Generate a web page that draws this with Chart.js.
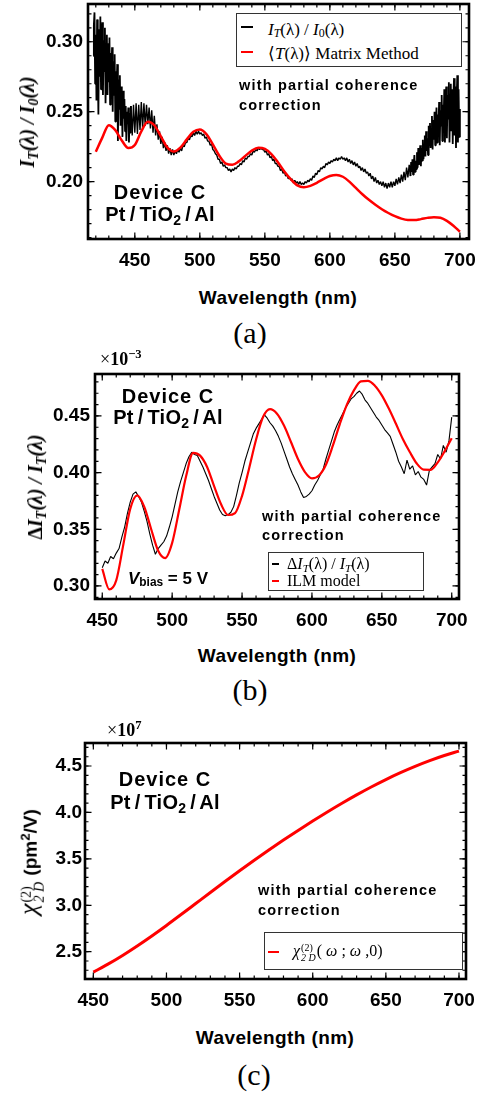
<!DOCTYPE html>
<html><head><meta charset="utf-8">
<script src="https://cdn.jsdelivr.net/npm/chart.js@4.4.1/dist/chart.umd.min.js"></script>
<style>
html,body{margin:0;padding:0;background:#fff;}
#wrap{position:relative;width:488px;height:1098px;overflow:hidden;background:#fff;}
canvas{position:absolute;left:0;}
.t{position:absolute;white-space:nowrap;color:#000;line-height:1;z-index:5;}
.c{transform:translate(-50%,-50%);}
.l{transform:translateY(-50%);}
.rot{transform:translate(-50%,-50%) rotate(-90deg);}
.sb{font-family:"Liberation Sans",Arial,sans-serif;font-weight:bold;}
.sr{font-family:"Liberation Serif","Times New Roman",serif;}
.dev{font-size:20px;letter-spacing:1px;}
.pt{font-size:20px;letter-spacing:0.3px;word-spacing:-2px;}
.wpc{font-size:14.5px;letter-spacing:1.2px;}
.axt{font-size:19px;letter-spacing:0.4px;}
.lab{font-size:30px;}
.leg{position:absolute;border:1px solid #333;background:#fff;z-index:4;box-sizing:border-box;}
.smp{position:absolute;height:2px;z-index:6;}
sub{font-size:0.7em;vertical-align:-0.25em;line-height:0;}
sup{font-size:0.7em;vertical-align:0.55em;line-height:0;}
.ss{display:inline-flex;flex-direction:column;font-size:0.6em;line-height:0.95;vertical-align:middle;text-align:left;margin:0 1px;}
</style></head>
<body>
<div id="wrap">
<canvas id="cA" width="488" height="275" style="top:0px"></canvas>
<canvas id="cB" width="488" height="275" style="top:360px"></canvas>
<canvas id="cC" width="488" height="285" style="top:730px"></canvas>

<!-- panel (a) texts -->
<div class="t sr rot" style="left:27px;top:122px;font-size:20px;font-weight:bold;font-style:italic">I<sub>T</sub>(λ) / I<sub>0</sub>(λ)</div>
<div class="t sb axt c" style="left:278px;top:297px">Wavelength (nm)</div>
<div class="t sr lab c" style="left:250px;top:333px">(a)</div>
<div class="leg" style="left:236px;top:13px;width:226px;height:54px"></div>
<div class="smp" style="left:241px;top:26px;width:12px;background:#000"></div>
<div class="smp" style="left:241px;top:51px;width:12px;background:#f00"></div>
<div class="t sr l" style="left:268px;top:29px;font-size:17px"><i>I<sub>T</sub></i>(λ) / <i>I</i><sub>0</sub>(λ)</div>
<div class="t sr l" style="left:268px;top:53px;font-size:17px">⟨<i>T</i>(λ)⟩ Matrix Method</div>
<div class="t sb wpc l" style="left:239px;top:85px">with partial coherence</div>
<div class="t sb wpc l" style="left:239px;top:105px">correction</div>
<div class="t sb dev c" style="left:160px;top:192px">Device C</div>
<div class="t sb pt c" style="left:160px;top:214px">Pt / TiO<sub>2</sub> / Al</div>

<!-- panel (b) texts -->
<div class="t sr l" style="left:100px;top:359px;font-size:18px;font-weight:bold"><span style="font-weight:normal">×</span>10<sup>−3</sup></div>
<div class="t sr rot" style="left:35px;top:487px;font-size:20px;font-weight:bold;font-style:italic"><span style="font-style:normal">Δ</span>I<sub>T</sub>(λ) / I<sub>T</sub>(λ)</div>
<div class="t sb axt c" style="left:277px;top:655px">Wavelength (nm)</div>
<div class="t sr lab c" style="left:250px;top:690px">(b)</div>
<div class="t sb dev c" style="left:168px;top:396px">Device C</div>
<div class="t sb pt c" style="left:168px;top:417px">Pt / TiO<sub>2</sub> / Al</div>
<div class="t sb wpc l" style="left:262px;top:516px">with partial coherence</div>
<div class="t sb wpc l" style="left:262px;top:535px">correction</div>
<div class="t sb l" style="left:128px;top:578px;font-size:17px"><i>V</i><sub>bias</sub> = 5 V</div>
<div class="leg" style="left:268px;top:552px;width:156px;height:39px"></div>
<div class="smp" style="left:272px;top:563px;width:7px;height:1.5px;background:#000"></div>
<div class="smp" style="left:272px;top:580px;width:7px;background:#f00"></div>
<div class="t sr l" style="left:287px;top:564px;font-size:16px">Δ<i>I<sub>T</sub></i>(λ) / <i>I<sub>T</sub></i>(λ)</div>
<div class="t sr l" style="left:287px;top:581px;font-size:16px">ILM model</div>

<!-- panel (c) texts -->
<div class="t sr l" style="left:107px;top:730px;font-size:18px;font-weight:bold"><span style="font-weight:normal">×</span>10<sup>7</sup></div>
<div class="t rot" style="left:31px;top:862px"><span class="sr" style="font-style:italic;font-size:26px">χ</span><span class="ss sr" style="font-size:14px"><span>(2)</span><span><i>2 D</i></span></span><span class="sb" style="font-size:19px"> (pm<sup>2</sup>/V)</span></div>
<div class="t sb axt c" style="left:275px;top:1037px">Wavelength (nm)</div>
<div class="t sr lab c" style="left:254px;top:1075px">(c)</div>
<div class="t sb dev c" style="left:165px;top:779px">Device C</div>
<div class="t sb pt c" style="left:165px;top:802px">Pt / TiO<sub>2</sub> / Al</div>
<div class="t sb wpc l" style="left:258px;top:890px">with partial coherence</div>
<div class="t sb wpc l" style="left:258px;top:910px">correction</div>
<div class="leg" style="left:264px;top:932px;width:199px;height:38px"></div>
<div class="smp" style="left:268px;top:951px;width:11px;background:#f00"></div>
<div class="t sr l" style="left:293px;top:952px;font-size:16px"><i>χ</i><span class="ss" style="font-size:10px"><span>(2)</span><span><i>2 D</i></span></span>( <i>ω</i> ; <i>ω</i> ,0)</div>
</div>

<script>
// ---------- Panel (a): transmission ----------
const waveA_meas = [418,418.5,419,419.5,420,420.5,421,421.5,422,422.5,423,423.5,424,424.5,425,425.5,
426,426.5,427,427.5,428,428.5,429,429.5,430,430.5,431,431.5,432,432.5,433,433.5,
434,434.5,435,435.5,436,436.5,437,437.5,438,438.5,439,439.5,440,440.5,441,441.5,
442,442.5,443,443.5,444,444.5,445,445.5,446,446.5,447,
448,449,450,451,452,453,454,455,456,457,
458,459,460,461,462,463,464,465,466,467,
468,469,470,471,472,473,474,475,476,477,
478,479,480,481,482,483,484,485,486,487,
488,489,490,491,492,493,494,495,496,497,
498,499,500,501,502,503,504,505,506,507,
508,509,510,511,512,513,514,515,516,517,
518,519,520,521,522,523,524,525,526,527,
528,529,530,531,532,533,534,535,536,537,
538,539,540,541,542,543,544,545,546,547,
548,549,550,551,552,553,554,555,556,557,
558,559,560,561,562,563,564,565,566,567,
568,569,570,571,572,573,574,575,576,577,
578,579,580,581,582,583,584,585,586,587,
588,589,590,591,592,593,594,595,596,597,
598,599,600,601,602,603,604,605,606,607,
608,609,610,611,612,613,614,615,616,617,
618,619,620,621,622,623,624,625,626,627,
628,629,630,631,632,633,634,635,636,637,
638,639,640,641,642,643,644,645,646,647,
648,649,650,651,652,653,654,655,656,657,
658,659,660,661,
662,662.5,663,663.5,664,664.5,665,665.5,666,666.5,667,667.5,668,668.5,669,669.5,
670,670.5,671,671.5,672,672.5,673,673.5,674,674.5,675,675.5,676,676.5,677,677.5,
678,678.5,679,679.5,680,680.5,681,681.5,682,682.5,683,683.5,684,684.5,685,685.5,
686,686.5,687,687.5,688,688.5,689,689.5,690,690.5,691,691.5,692,692.5,693,693.5,
694,694.5,695,695.5,696,696.5,697,697.5,698,698.5,699,699.5,700];
const ratioA_meas = [0.290,0.312,0.321,0.270,0.305,0.258,0.316,0.283,0.248,0.309,0.275,0.318,0.266,0.298,0.314,0.262,
0.301,0.279,0.310,0.256,0.295,0.305,0.262,0.299,0.271,0.303,0.255,0.292,0.278,0.296,0.250,0.286,
0.262,0.291,0.243,0.279,0.268,0.284,0.229,0.273,0.252,0.276,0.240,0.268,0.258,0.232,0.265,0.245,
0.259,0.236,0.254,0.229,0.250,0.241,0.253,0.228,0.249,0.235,0.254,
0.233,0.255,0.235,0.256,0.234,0.255,0.237,0.257,0.238,0.256,
0.240,0.255,0.241,0.253,0.238,0.251,0.235,0.247,0.233,0.241,
0.230,0.236,0.227,0.232,0.224,0.228,0.222,0.226,0.220,0.224,
0.219,0.223,0.219,0.222,0.220,0.223,0.221,0.224,0.222,0.226,
0.225,0.228,0.228,0.231,0.230,0.233,0.232,0.235,0.233,0.236,
0.234,0.236,0.234,0.235,0.233,0.234,0.231,0.232,0.229,0.229,
0.226,0.227,0.223,0.222,0.220,0.219,0.216,0.216,0.213,0.214,
0.211,0.212,0.210,0.210,0.208,0.209,0.207,0.209,0.208,0.210,
0.209,0.211,0.211,0.213,0.212,0.215,0.214,0.217,0.216,0.218,
0.218,0.220,0.219,0.222,0.221,0.223,0.222,0.224,0.223,0.224,
0.223,0.223,0.221,0.222,0.219,0.220,0.217,0.218,0.215,0.216,
0.213,0.213,0.211,0.211,0.208,0.209,0.206,0.207,0.204,0.205,
0.202,0.203,0.201,0.202,0.199,0.201,0.199,0.200,0.198,0.200,
0.198,0.199,0.198,0.200,0.199,0.201,0.200,0.202,0.201,0.204,
0.203,0.206,0.205,0.208,0.207,0.210,0.209,0.211,0.210,0.213,
0.212,0.214,0.213,0.215,0.214,0.216,0.215,0.217,0.215,0.217,
0.216,0.218,0.216,0.217,0.215,0.217,0.214,0.216,0.213,0.215,
0.212,0.214,0.211,0.213,0.210,0.211,0.208,0.210,0.207,0.209,
0.206,0.207,0.204,0.206,0.202,0.204,0.200,0.203,0.199,0.201,
0.198,0.200,0.197,0.200,0.196,0.199,0.195,0.199,0.196,0.200,
0.196,0.200,0.197,0.202,0.198,0.203,0.199,0.205,0.200,0.207,
0.201,0.210,0.203,0.212,
0.204,0.214,0.207,0.216,0.205,0.212,0.219,0.207,0.215,0.209,0.221,0.210,0.224,0.212,0.218,0.226,
0.211,0.224,0.215,0.230,0.216,0.226,0.233,0.218,0.236,0.222,0.231,0.219,0.240,0.226,0.242,0.224,
0.236,0.247,0.223,0.244,0.230,0.250,0.226,0.241,0.253,0.228,0.248,0.236,0.257,0.226,0.251,0.240,
0.262,0.229,0.255,0.244,0.266,0.228,0.259,0.268,0.231,0.262,0.245,0.271,0.228,0.258,0.270,0.236,
0.266,0.227,0.262,0.274,0.233,0.268,0.224,0.259,0.276,0.228,0.266,0.232,0.252];
const waveA_tmm = [420,425,430,435,440,445,450,455,460,465,470,475,480,485,490,495,500,505,510,515,
520,525,530,535,540,545,550,555,560,565,570,575,580,585,590,595,600,605,610,615,
620,625,630,635,640,645,650,655,660,665,670,675,680,685,690,695,700];
const transA_tmm = [0.2214,0.2315,0.2404,0.2368,0.2294,0.2240,0.2262,0.2360,0.2428,0.2403,
0.2324,0.2244,0.2215,0.2243,0.2302,0.2356,0.2373,0.2340,0.2266,0.2185,
0.2129,0.2121,0.2145,0.2184,0.2222,0.2242,0.2234,0.2197,0.2139,0.2073,
0.2017,0.1973,0.1960,0.1970,0.1992,0.2018,0.2040,0.2048,0.2035,0.2000,
0.1955,0.1910,0.1870,0.1835,0.1803,0.1776,0.1753,0.1736,0.1726,0.1725,
0.1732,0.1741,0.1746,0.1742,0.1720,0.1685,0.1642];
const xTicksA = [450,500,550,600,650,700];
const xLabelsA = ['450','500','550','600','650','700'];
const yTicksA = [0.20,0.25,0.30];
const yLabelsA = ['0.20','0.25','0.30'];

// ---------- Panel (b): modulation (x 10^-3) ----------
const waveB_meas = [450,452,454,456,458,460,462,464,466,468,
470,472,474,476,478,480,482,484,486,488,
490,492,494,496,498,500,502,504,506,508,
510,512,514,516,518,520,522,524,526,528,
530,532,534,536,538,540,542,544,546,548,
550,552,554,556,558,560,562,564,566,568,
570,572,574,576,578,580,582,584,586,588,
590,592,594,596,598,600,602,604,606,608,
610,612,614,616,618,620,622,624,626,628,
630,632,634,636,638,640,642,644,646,648,
650,652,654,656,658,660,662,664,666,668,
670,672,674,676,678,680,682,684,686,688,
690,692,694,696,698,700];
const modB_meas = [0.316,0.322,0.320,0.326,0.324,0.329,0.333,0.343,0.352,0.364,
0.374,0.381,0.383,0.379,0.374,0.366,0.357,0.346,0.336,0.328,
0.333,0.336,0.339,0.344,0.352,0.361,0.372,0.383,0.392,0.400,
0.408,0.414,0.418,0.416,0.415,0.410,0.405,0.399,0.393,0.386,
0.379,0.373,0.367,0.363,0.362,0.363,0.365,0.370,0.380,0.391,
0.400,0.410,0.418,0.426,0.434,0.439,0.443,0.447,0.451,0.448,
0.444,0.441,0.437,0.432,0.426,0.419,0.412,0.405,0.399,0.394,
0.389,0.383,0.378,0.379,0.381,0.384,0.389,0.393,0.398,0.403,
0.412,0.420,0.428,0.436,0.442,0.447,0.452,0.457,0.461,0.465,
0.467,0.470,0.472,0.469,0.464,0.461,0.457,0.453,0.449,0.446,
0.442,0.438,0.435,0.432,0.425,0.418,0.410,0.405,0.399,0.411,
0.403,0.406,0.398,0.401,0.396,0.394,0.389,0.402,0.405,0.408,
0.416,0.412,0.424,0.418,0.428,0.449];
const waveB_ilm = [450,455,460,465,470,475,480,485,490,495,500,505,510,515,520,525,530,535,540,545,
550,555,560,565,570,575,580,585,590,595,600,605,610,615,620,625,630,635,640,645,
650,655,660,665,670,675,680,685,690,695,700];
const modB_ilm = [0.315,0.297,0.305,0.336,0.368,0.380,0.370,0.350,0.331,0.3245,
0.338,0.367,0.397,0.4175,0.4150,0.405,0.388,0.372,0.3626,0.3643,
0.3795,0.4035,0.429,0.449,0.456,0.452,0.4415,0.427,0.412,0.4005,
0.395,0.3975,0.407,0.424,0.443,0.460,0.4725,0.4805,0.481,0.4767,
0.4682,0.4565,0.4433,0.4297,0.4182,0.408,0.4026,0.4025,0.409,0.419,0.4303];
const xTicksB = [450,500,550,600,650,700];
const xLabelsB = ['450','500','550','600','650','700'];
const yTicksB = [0.30,0.35,0.40,0.45];
const yLabelsB = ['0.30','0.35','0.40','0.45'];

// ---------- Panel (c): chi(2) (x 10^7) ----------
const waveC = [450,460,470,480,490,500,510,520,530,540,550,560,570,580,590,600,610,620,630,640,650,660,670,680,690,700];
const chiC = [2.280,2.366,2.460,2.562,2.670,2.783,2.900,3.019,3.138,3.256,3.372,3.485,3.595,3.702,3.806,3.907,4.005,4.099,4.189,4.274,4.354,4.428,4.496,4.558,4.613,4.661];
const xTicksC = [450,500,550,600,650,700];
const xLabelsC = ['450','500','550','600','650','700'];
const yTicksC = [2.5,3.0,3.5,4.0,4.5];
const yLabelsC = ['2.5','3.0','3.5','4.0','4.5'];

const SANS = '"Liberation Sans", Arial, Helvetica, sans-serif';
const pts = (xs, ys) => xs.map((x, i) => ({x: x, y: ys[i]}));

const frameTicks = {
  id: 'frameTicks',
  afterDraw(chart, args, o) {
    const ctx = chart.ctx, a = chart.chartArea, xs = chart.scales.x, ys = chart.scales.y;
    ctx.save();
    ctx.strokeStyle = '#000';
    ctx.lineWidth = 1.2;
    const tx = (v, len) => { const p = xs.getPixelForValue(v); ctx.beginPath();
      ctx.moveTo(p, a.bottom); ctx.lineTo(p, a.bottom - len);
      ctx.moveTo(p, a.top); ctx.lineTo(p, a.top + len); ctx.stroke(); };
    const ty = (v, len) => { const p = ys.getPixelForValue(v); ctx.beginPath();
      ctx.moveTo(a.left, p); ctx.lineTo(a.left + len, p);
      ctx.moveTo(a.right, p); ctx.lineTo(a.right - len, p); ctx.stroke(); };
    for (let k = 0; ; k++) { const v = o.xMinor[0] + k * o.xMinor[2]; if (v > o.xMinor[1] + 1e-9) break; tx(v, 3.5); }
    for (let k = 0; ; k++) { const v = o.yMinor[0] + k * o.yMinor[2]; if (v > o.yMinor[1] + 1e-9) break; ty(v, 3.5); }
    o.xMajor.forEach(v => tx(v, 6.5));
    o.yMajor.forEach(v => ty(v, 6.5));
    ctx.lineWidth = 2.6;
    ctx.strokeRect(a.left, a.top, a.right - a.left, a.bottom - a.top);
    ctx.restore();
  }
};

function makeChart(id, cfg) {
  return new Chart(document.getElementById(id), {
    type: 'line',
    data: { datasets: cfg.datasets },
    options: {
      responsive: false, animation: false, devicePixelRatio: 1,
      layout: { padding: { top: cfg.padTop, right: cfg.padRight, left: 0, bottom: 0 } },
      plugins: { legend: { display: false }, tooltip: { enabled: false },
        frameTicks: cfg.frame },
      elements: { point: { radius: 0 } },
      scales: {
        x: { type: 'linear', min: cfg.xMin, max: cfg.xMax,
          grid: { display: false, drawTicks: false }, border: { display: false },
          afterBuildTicks: s => { s.ticks = cfg.xTicks.map(v => ({ value: v })); },
          afterFit: s => { s.height = cfg.xH; s.paddingLeft = 0; s.paddingRight = 0; s.paddingTop = 0; s.paddingBottom = 0; },
          ticks: { color: '#000', font: { family: SANS, weight: 'bold', size: 19 }, padding: 10,
            maxRotation: 0, autoSkip: false, callback: (v, i) => cfg.xLabels[i] } },
        y: { type: 'linear', min: cfg.yMin, max: cfg.yMax,
          grid: { display: false, drawTicks: false }, border: { display: false },
          afterBuildTicks: s => { s.ticks = cfg.yTicks.map(v => ({ value: v })); },
          afterFit: s => { s.width = cfg.yW; s.paddingLeft = 0; s.paddingRight = 0; s.paddingTop = 0; s.paddingBottom = 0; },
          ticks: { color: '#000', font: { family: SANS, weight: 'bold', size: 19 }, padding: cfg.yPad,
            autoSkip: false, callback: (v, i) => cfg.yLabels[i] } }
      }
    },
    plugins: [frameTicks]
  });
}

makeChart('cA', {
  datasets: [
    { data: pts(waveA_tmm, transA_tmm), borderColor: '#ff0000', borderWidth: 2.5, cubicInterpolationMode: 'monotone', fill: false },
    { data: pts(waveA_meas, ratioA_meas), borderColor: '#000000', borderWidth: 1.4, tension: 0, borderJoinStyle: 'bevel', fill: false,
      segment: { borderWidth: s => (s.p0.parsed.x < 447 || s.p0.parsed.x > 661) ? 1.8 : 1.4 } }
  ],
  padTop: 4, padRight: 19, xH: 36, yW: 88, yPad: 5,
  xMin: 414, xMax: 707, yMin: 0.159, yMax: 0.327,
  xTicks: xTicksA, xLabels: xLabelsA, yTicks: yTicksA, yLabels: yLabelsA,
  frame: { xMajor: xTicksA, yMajor: yTicksA, xMinor: [420, 700, 10], yMinor: [0.16, 0.32, 0.01] }
});

makeChart('cB', {
  datasets: [
    { data: pts(waveB_ilm, modB_ilm), borderColor: '#ff0000', borderWidth: 2.2, cubicInterpolationMode: 'monotone', fill: false },
    { data: pts(waveB_meas, modB_meas), borderColor: '#000000', borderWidth: 1.1, tension: 0, borderJoinStyle: 'bevel', fill: false }
  ],
  padTop: 14, padRight: 29, xH: 36, yW: 95, yPad: 5,
  xMin: 444.8, xMax: 705.2, yMin: 0.2885, yMax: 0.487,
  xTicks: xTicksB, xLabels: xLabelsB, yTicks: yTicksB, yLabels: yLabelsB,
  frame: { xMajor: xTicksB, yMajor: yTicksB, xMinor: [450, 700, 10], yMinor: [0.29, 0.48, 0.01] }
});

makeChart('cC', {
  datasets: [
    { data: pts(waveC, chiC), borderColor: '#ff0000', borderWidth: 3, cubicInterpolationMode: 'monotone', fill: false }
  ],
  padTop: 13, padRight: 22, xH: 36, yW: 85, yPad: 3,
  xMin: 444.3, xMax: 704.8, yMin: 2.206, yMax: 4.748,
  xTicks: xTicksC, xLabels: xLabelsC, yTicks: yTicksC, yLabels: yLabelsC,
  frame: { xMajor: xTicksC, yMajor: yTicksC, xMinor: [450, 700, 10], yMinor: [2.3, 4.7, 0.1] }
});
</script>
</body></html>
